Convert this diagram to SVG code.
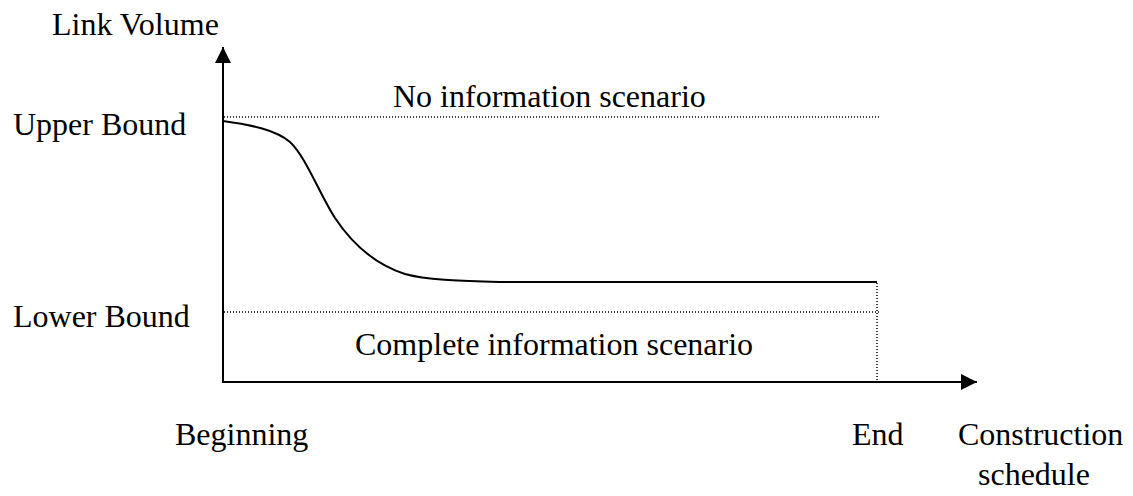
<svg xmlns="http://www.w3.org/2000/svg" width="1133" height="496" viewBox="0 0 1133 496">
<style>
.t{font-family:"Liberation Serif","Times New Roman",serif;font-size:32px;fill:#000}
.ax{stroke:#000;stroke-width:2;fill:none}
.dot{stroke:#000;stroke-width:1.5;stroke-dasharray:1 2;fill:none}
</style>
<defs>
<marker id="ah" markerUnits="userSpaceOnUse" markerWidth="16" markerHeight="16" refX="16" refY="8" orient="auto">
<path d="M0,0 L16,8 L0,16 Z" fill="#000"/>
</marker>
</defs>
<rect width="1133" height="496" fill="#fff"/>
<g id="connectors">
<line class="ax" x1="223" y1="382" x2="223" y2="47" marker-end="url(#ah)"/>
<line class="ax" x1="222" y1="382" x2="977" y2="382" marker-end="url(#ah)"/>
<line class="dot" x1="224" y1="117" x2="880" y2="117"/>
<line class="dot" x1="224" y1="312" x2="880" y2="312"/>
<line class="dot" x1="877" y1="283" x2="877" y2="381"/>
<path class="ax" d="M223,121 C252,125 276,130 290,142 C306,157 320,195 335,218 C355,248 380,266 405,274 C430,281 470,281 505,282 L877,282"/>
</g>
<g id="labels">
<text class="t" x="52" y="35">Link Volume</text>
<text class="t" x="13" y="135">Upper Bound</text>
<text class="t" x="13" y="327">Lower Bound</text>
<text class="t" x="393" y="107">No information scenario</text>
<text class="t" x="355" y="355">Complete information scenario</text>
<text class="t" x="175" y="445">Beginning</text>
<text class="t" x="852" y="445">End</text>
<text class="t" x="958" y="445">Construction</text>
<text class="t" x="978" y="485">schedule</text>
</g>
</svg>
